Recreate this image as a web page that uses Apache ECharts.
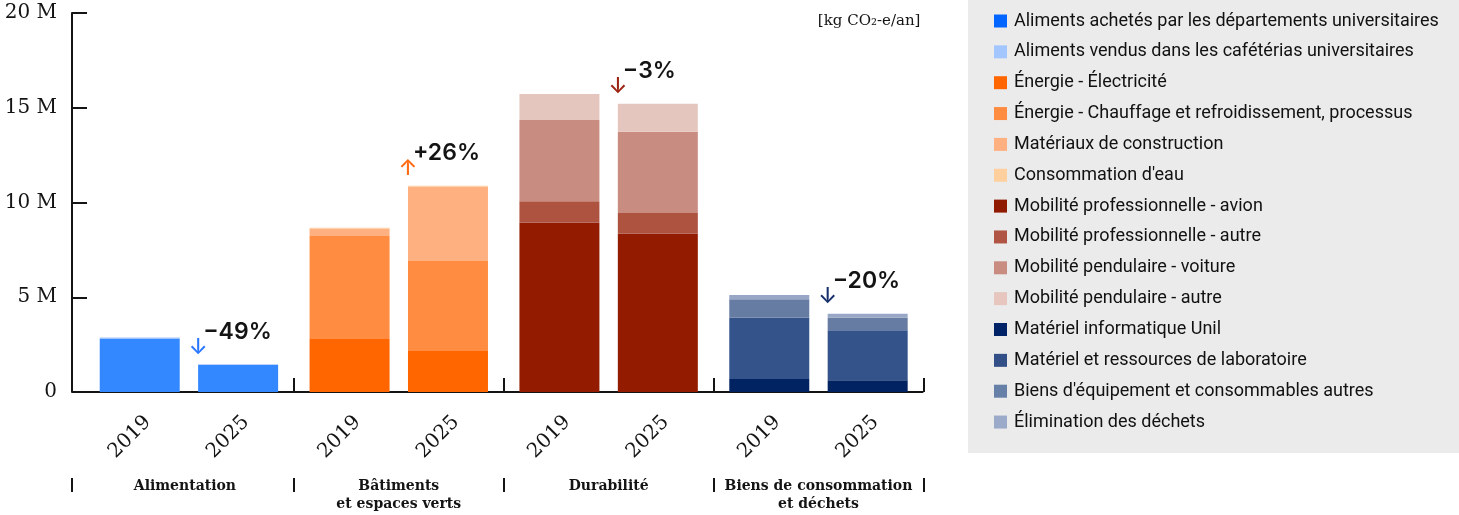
<!DOCTYPE html>
<html>
<head>
<meta charset="utf-8">
<script src="https://cdn.jsdelivr.net/npm/echarts@6/dist/echarts.min.js"></script>
<style>
  html, body { margin: 0; padding: 0; background: #ffffff; }
  #chart { width: 1459px; height: 515px; }
</style>
</head>
<body>
<div id="chart"></div>
<script>
// ---------- data ----------
const categories = ['Alimentation', 'Bâtiments\net espaces verts', 'Durabilité', 'Biens de consommation\net déchets'];
const years = ['2019', '2025'];
const seriesNames = [
  'Aliments achetés par les départements universitaires',
  'Aliments vendus dans les cafétérias universitaires',
  'Énergie - Électricité',
  'Énergie - Chauffage et refroidissement, processus',
  'Matériaux de construction',
  "Consommation d'eau",
  'Mobilité professionnelle - avion',
  'Mobilité professionnelle - autre',
  'Mobilité pendulaire - voiture',
  'Mobilité pendulaire - autre',
  'Matériel informatique Unil',
  'Matériel et ressources de laboratoire',
  "Biens d'équipement et consommables autres",
  'Élimination des déchets'
];
const seriesGroup = [0, 0, 1, 1, 1, 1, 2, 2, 2, 2, 3, 3, 3, 3];
// values in millions kg CO2-e / an
const values2019 = [2.82, 0.05, 2.80, 5.43, 0.40, 0.04, 8.93, 1.13, 4.29, 1.38, 0.69, 3.23, 0.97, 0.23];
const values2025 = [1.43, 0.03, 2.20, 4.71, 3.94, 0.04, 8.35, 1.10, 4.29, 1.47, 0.62, 2.64, 0.66, 0.21];
const changeLabels = ['−49%', '+26%', '−3%', '−20%'];
const changeArrows = ['↓', '↑', '↓', '↓'];
const yTicks = [0, 5, 10, 15, 20];

// ---------- styles ----------
const legendColors = ['#0066ff', '#a3c6ff', '#ff6600', '#ff8c40', '#ffb080', '#ffcf9e', '#8f1a00', '#b05444', '#c98c80', '#e6c6bf', '#002266', '#325087', '#6680a8', '#9aaac8'];
const barColors = ['#3388ff', '#a3c6ff', '#ff6600', '#ff8c40', '#ffb080', '#ffcf9e', '#931c00', '#ad5340', '#c98c80', '#e5c6be', '#012361', '#34538a', '#667ca3', '#98a7c5'];
const arrowColors = ['#2a78ff', '#ff6a13', '#9a2410', '#17306b'];
const ink = '#141414';
const serif = 'DejaVu Serif';
const sans = 'Inter, Roboto, sans-serif';

const gridLeft = 84, gridTop = 13, gridBottom = 123, gridRight = 535.6;
const baseY = 515 - gridBottom;

const series = [];
// year labels (zero-height bars at the bottom of each stack)
years.forEach(function (y) {
  series.push({
    type: 'bar', name: '_year' + y, stack: 's' + y, barWidth: 80, barGap: '23%',
    silent: true, emphasis: { disabled: true },
    itemStyle: { color: 'rgba(0,0,0,0)' },
    data: categories.map(function () { return 0; }),
    label: {
      show: true, formatter: y, position: [30, 45], rotate: 45,
      align: 'center', verticalAlign: 'middle',
      fontFamily: serif, fontSize: 20, color: ink
    }
  });
});
// stacked data series
seriesNames.forEach(function (name, i) {
  [values2019, values2025].forEach(function (vals, yi) {
    series.push({
      type: 'bar', name: name, stack: 's' + years[yi], barWidth: 80, barGap: '23%',
      silent: true, emphasis: { disabled: true },
      itemStyle: { color: barColors[i] },
      data: categories.map(function (c, g) { return g === seriesGroup[i] ? vals[i] : 0; })
    });
  });
});
// change annotations (zero-height bars on top of 2025 stacks)
series.push({
  type: 'bar', name: '_arrow', stack: 's2025', barWidth: 80, barGap: '23%',
  silent: true, emphasis: { disabled: true },
  itemStyle: { color: 'rgba(0,0,0,0)' },
  label: { show: true, position: [0, -17], align: 'center', verticalAlign: 'middle', fontFamily: sans, fontSize: 22, fontWeight: 500 },
  data: categories.map(function (c, g) {
    return { value: 0, label: { formatter: changeArrows[g], color: arrowColors[g] } };
  })
});
series.push({
  type: 'bar', name: '_pct', stack: 's2025', barWidth: 80, barGap: '23%',
  silent: true, emphasis: { disabled: true },
  itemStyle: { color: 'rgba(0,0,0,0)' },
  label: { show: true, position: [5, -32.5], align: 'left', verticalAlign: 'middle', fontFamily: sans, fontSize: 23, fontWeight: 600, color: ink },
  data: categories.map(function (c, g) {
    return { value: 0, label: { formatter: changeLabels[g] } };
  })
});

const chart = echarts.init(document.getElementById('chart'), null, { renderer: 'canvas' });
chart.setOption({
  animation: false,
  backgroundColor: '#ffffff',
  grid: { left: gridLeft, right: gridRight, top: gridTop, bottom: gridBottom, containLabel: false },
  legend: {
    orient: 'vertical', left: 994, top: 12, padding: 0,
    itemWidth: 13, itemHeight: 13, itemGap: 12.85, icon: 'rect',
    selectedMode: false,
    textStyle: { fontFamily: 'Roboto', fontSize: 18, color: '#111111', lineHeight: 18, padding: [0, 0, 0, 2] },
    data: seriesNames.map(function (n, i) { return { name: n, itemStyle: { color: legendColors[i] } }; })
  },
  xAxis: [{
    type: 'category', data: categories, position: 'bottom',
    axisLine: { show: false },
    axisTick: { show: true, inside: true, length: 14, interval: function (i) { return i !== 0; }, lineStyle: { color: ink, width: 2 } },
    axisLabel: {
      interval: 0, margin: 85, fontFamily: serif, fontSize: 14, fontWeight: 'bold', lineHeight: 18, color: ink,
      formatter: function (v, i) { return i === 0 ? '{a|' + v + '}' : v; },
      rich: { a: { padding: [0, 8, 0, 0], fontFamily: serif, fontSize: 14, fontWeight: 'bold', lineHeight: 18, color: ink } }
    },
    splitLine: { show: false }
  }, {
    type: 'category', data: categories, position: 'bottom', offset: 86,
    axisLine: { show: false },
    axisTick: { show: true, inside: false, length: 14, interval: function (i) { return i !== 0; }, lineStyle: { color: ink, width: 2 } },
    axisLabel: { show: false },
    splitLine: { show: false }
  }],
  yAxis: {
    type: 'value', min: yTicks[0], max: yTicks[yTicks.length - 1], interval: yTicks[1] - yTicks[0], offset: 12,
    axisLine: { show: true, lineStyle: { color: ink, width: 2 } },
    axisTick: { show: true, inside: true, length: 15, lineStyle: { color: ink, width: 2 } },
    splitLine: { show: false },
    axisLabel: {
      margin: 15, fontFamily: serif, fontSize: 20, color: ink,
      formatter: function (v) { return v === 0 ? '0' : v + ' M'; }
    }
  },
  graphic: [
    { type: 'rect', z: -10, silent: true, shape: { x: 968, y: 0, width: 491, height: 453 }, style: { fill: '#ebebeb' } },
    { type: 'line', silent: true, shape: { x1: gridLeft - 12, y1: baseY, x2: 1459 - gridRight, y2: baseY }, style: { stroke: ink, lineWidth: 2 } },
    { type: 'line', silent: true, shape: { x1: gridLeft - 12, y1: baseY + 86, x2: gridLeft - 12, y2: baseY + 100 }, style: { stroke: ink, lineWidth: 2 } },
    { type: 'text', silent: true, x: 1459 - gridRight - 3, y: 21,
      style: { text: '[kg CO₂-e/an]', font: '15px "DejaVu Serif"', fill: ink, align: 'right', verticalAlign: 'middle' } }
  ],
  series: series
});
</script>
</body>
</html>
